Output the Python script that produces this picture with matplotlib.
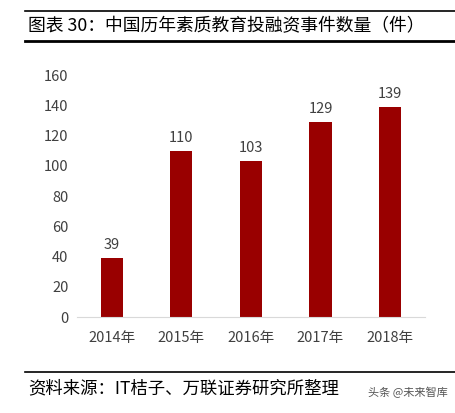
import matplotlib.pyplot as plt
from matplotlib.lines import Line2D

plt.rcParams['font.family'] = ['Noto Sans CJK SC', 'DejaVu Sans']

years = ["2014年", "2015年", "2016年", "2017年", "2018年"]
counts = [39, 110, 103, 129, 139]

fig = plt.figure(figsize=(4.55, 4.13), dpi=100)
ax = fig.add_axes([0.169, 0.232, 0.765, 0.586])

bars = ax.bar(years, counts, width=0.32, color="#990000")
for b, v in zip(bars, counts):
    ax.text(b.get_x() + b.get_width() / 2, v + 4, str(v), ha="center", va="bottom",
            fontsize=10.5, color="#404040")

ax.set_ylim(0, 160)
ax.set_yticks(range(0, 161, 20))
ax.set_xlim(-0.5, 4.5)
for s in ["top", "right", "left"]:
    ax.spines[s].set_visible(False)
ax.spines["bottom"].set_color("#d9d9d9")
ax.tick_params(axis="both", length=0, labelsize=10.5, colors="#404040", pad=6)
ax.tick_params(axis="x", pad=10)

# header and footer rules
fig.add_artist(Line2D([0.055, 1.0], [1 - 11 / 413] * 2, color="black", lw=1.2))
fig.add_artist(Line2D([0.055, 1.0], [1 - 41 / 413] * 2, color="black", lw=2))
fig.add_artist(Line2D([0.055, 1.0], [1 - 372 / 413] * 2, color="black", lw=1.2))

fig.text(0.062, 1 - 26 / 413, "图表 30：中国历年素质教育投融资事件数量（件）",
         fontsize=12.8, va="center", ha="left", color="black")
fig.text(0.062, 1 - 388 / 413, "资料来源：IT桔子、万联证券研究所整理",
         fontsize=12.5, va="center", ha="left", style="italic", color="black")
fig.text(0.985, 1 - 392 / 413, "头条 @未来智库", fontsize=8, va="center", ha="right",
         color="#555555")

fig.savefig("out.png", dpi=100)
